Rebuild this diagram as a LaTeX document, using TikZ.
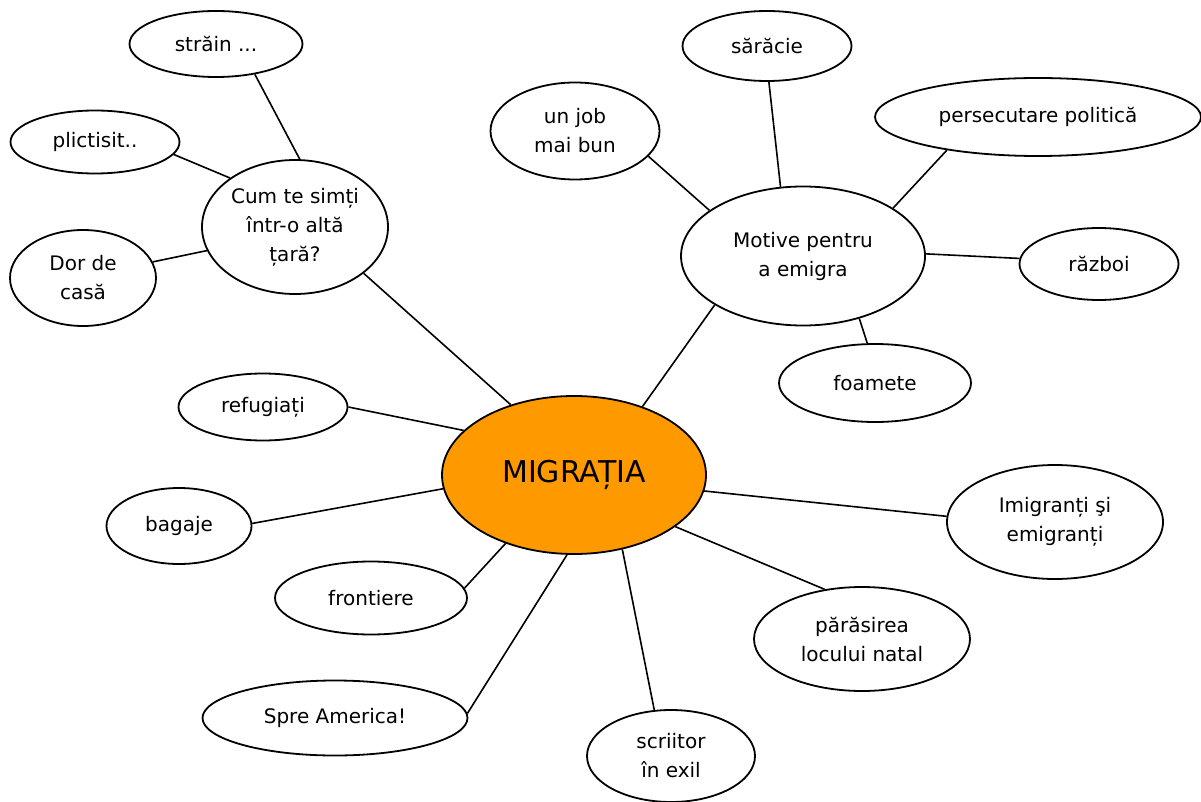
\documentclass[tikz,border=0pt]{standalone}
\usepackage{fontspec}
\setmainfont{DejaVu Sans}
\usetikzlibrary{shapes.geometric}
\definecolor{migorange}{RGB}{255,153,0}
\tikzset{
  bub/.style={draw=black, line width=1.8pt, ellipse, inner sep=0pt, align=center,
    font=\fontsize{20}{29}\selectfont, fill=white},
  hub/.style={bub, fill=migorange, font=\fontsize{30}{34}\selectfont},
  link/.style={draw=black, line width=1.6pt}
}
\begin{document}
\begin{tikzpicture}[x=1pt,y=-1pt]
\useasboundingbox (0,0) rectangle (1201,802);
% nodes
\node[hub, minimum width=264pt, minimum height=158pt] (mig) at (574,475) {MIGRAȚIA};
\node[bub, minimum width=186pt, minimum height=134pt] (cum) at (295,227) {Cum te simți\\într-o altă\\țară?};
\node[bub, minimum width=173pt, minimum height=66pt] (strain) at (216,44) {străin ...};
\node[bub, minimum width=169pt, minimum height=63pt] (plic) at (95,142) {plictisit..};
\node[bub, minimum width=146pt, minimum height=96pt] (dor) at (83,278) {Dor de\\casă};
\node[bub, minimum width=169pt, minimum height=67pt] (refu) at (263,407) {refugiați};
\node[bub, minimum width=145pt, minimum height=76pt] (bag) at (179,526) {bagaje};
\node[bub, minimum width=192pt, minimum height=73pt] (front) at (371,598) {frontiere};
\node[bub, minimum width=265pt, minimum height=75pt] (spre) at (335,718) {Spre America!};
\node[bub, minimum width=168pt, minimum height=92pt] (scri) at (671,756) {scriitor\\în exil};
\node[bub, minimum width=216pt, minimum height=104pt] (para) at (862,639) {părăsirea\\locului natal};
\node[bub, minimum width=216pt, minimum height=114pt] (imig) at (1055,522) {Imigranți şi\\emigranți};
\node[bub, minimum width=244pt, minimum height=139pt] (mot) at (803,256) {Motive pentru\\a emigra};
\node[bub, minimum width=169pt, minimum height=97pt] (job) at (575,131) {un job\\mai bun};
\node[bub, minimum width=169pt, minimum height=70pt] (sar) at (767,46) {sărăcie};
\node[bub, minimum width=326pt, minimum height=78pt] (pers) at (1038,117) {persecutare politică};
\node[bub, minimum width=159pt, minimum height=72pt] (raz) at (1099,264) {război};
\node[bub, minimum width=192pt, minimum height=78pt] (foam) at (875,383) {foamete};
% connectors
\draw[link] (cum.86) -- (strain.-38);
\draw[link] (cum.143) -- (plic.-9);
\draw[link] (cum.-165) -- (dor.13);
\draw[link] (cum.-34) -- (mig.132);
\draw[link] (mig.158) -- (refu.0);
\draw[link] (mig.186) -- (bag.2);
\draw[link] (mig.225) -- (front.6);
\draw[link] (mig.265) -- (spre.2);
\draw[link] (mig.-57) -- (scri.110);
\draw[link] (mig.-27) -- (para.127);
\draw[link] (mig.-7) -- (imig.177);
\draw[link] (mig.45) -- (mot.209);
\draw[link] (mot.154) -- (job.-19);
\draw[link] (mot.108) -- (sar.-87);
\draw[link] (mot.28) -- (pers.200);
\draw[link] (mot.1) -- (raz.176);
\draw[link] (mot.-48) -- (foam.101);
\end{tikzpicture}
\end{document}
